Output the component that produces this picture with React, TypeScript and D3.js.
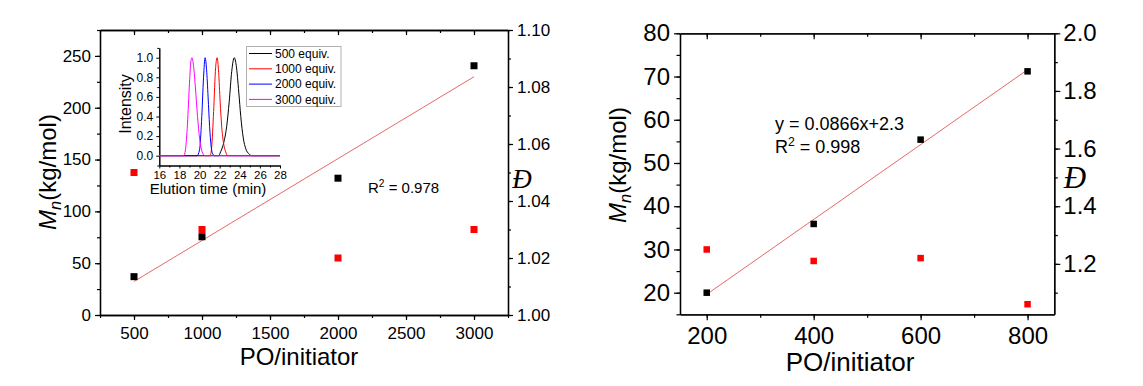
import React, { useEffect, useRef } from "react";
import * as d3 from "d3";

const WIDTH = 1143;
const HEIGHT = 386;
const SANS = "'Liberation Sans', Arial, sans-serif";
const SERIF = "'Liberation Serif', 'Times New Roman', serif";

// left panel: Mn and dispersity vs PO/initiator
const leftRatio = [500, 1000, 2000, 3000];
const leftMn = [37, 75.5, 132, 240.5];
const leftDispersity = [1.05, 1.03, 1.02, 1.03];
const leftXTicks = [500, 1000, 1500, 2000, 2500, 3000];
const leftYTicks = [0, 50, 100, 150, 200, 250];
const leftY2Ticks = [1.0, 1.02, 1.04, 1.06, 1.08, 1.1];
const leftR2 = "0.978";

// right panel
const rightRatio = [200, 400, 600, 800];
const rightMn = [20, 35.9, 55.4, 71.2];
const rightDispersity = [1.25, 1.21, 1.22, 1.06];
const rightXTicks = [200, 400, 600, 800];
const rightYTicks = [20, 30, 40, 50, 60, 70, 80];
const rightY2Ticks = [1.2, 1.4, 1.6, 1.8, 2.0];
const rightSlope = 0.0866;
const rightIntercept = 2.3;
const rightR2 = "0.998";

// inset: GPC traces (elution time in min, normalised intensity)
const gpcLabels = ["500 equiv.", "1000 equiv.", "2000 equiv.", "3000 equiv."];
const gpcColors = ["#000000", "#ff0000", "#0000ff", "#ff00ff"];
const gpc500: [number, number][] = [
  [16, 0], [21.9, 0], [22.1, 0.04], [22.4, 0.13], [22.7, 0.3], [22.95, 0.55],
  [23.2, 0.86], [23.45, 1.0], [23.65, 0.92], [23.9, 0.65], [24.1, 0.4],
  [24.35, 0.18], [24.6, 0.07], [24.9, 0.02], [25.2, 0], [28, 0],
];
const gpc1000: [number, number][] = [
  [16, 0], [21.05, 0], [21.2, 0.08], [21.4, 0.45], [21.6, 0.9], [21.75, 1.0],
  [21.9, 0.85], [22.05, 0.55], [22.2, 0.3], [22.4, 0.12], [22.6, 0.04],
  [22.8, 0], [28, 0],
];
const gpc2000: [number, number][] = [
  [16, 0], [19.75, 0], [20.0, 0.06], [20.2, 0.35], [20.4, 0.8], [20.55, 1.0],
  [20.7, 0.88], [20.85, 0.6], [21.0, 0.3], [21.15, 0.1], [21.3, 0.02],
  [21.5, 0], [28, 0],
];
const gpc3000: [number, number][] = [
  [16, 0], [18.45, 0], [18.6, 0.06], [18.8, 0.32], [19.0, 0.74], [19.15, 0.97],
  [19.25, 1.0], [19.4, 0.92], [19.6, 0.68], [19.8, 0.4], [20.0, 0.18],
  [20.2, 0.06], [20.4, 0.01], [20.6, 0], [28, 0],
];
const gpcSeries = [gpc500, gpc1000, gpc2000, gpc3000];
const gpcXTicks = [16, 18, 20, 22, 24, 26, 28];
const gpcYTicks = [0, 0.2, 0.4, 0.6, 0.8, 1.0];

type Sel = d3.Selection<SVGGElement, unknown, null, undefined>;

function styleAxis(g: Sel, fontSize: number) {
  g.select(".domain").attr("stroke", "#000").attr("stroke-width", 1.3);
  g.selectAll(".tick line").attr("stroke", "#000").attr("stroke-width", 1.2);
  g.selectAll(".tick text")
    .attr("fill", "#000")
    .style("font-family", SANS)
    .style("font-size", fontSize + "px");
}

function drawPanel(svg: Sel, cfg: any) {
  const x = d3.scaleLinear().domain(cfg.xDomain).range([cfg.left, cfg.right]);
  const y = d3.scaleLinear().domain(cfg.yDomain).range([cfg.bottom, cfg.top]);
  const y2 = d3.scaleLinear().domain(cfg.y2Domain).range([cfg.bottom, cfg.top]);
  const L = cfg.tickLen;
  const m = cfg.minorLen;

  const minor = (lo: number, hi: number, step: number) =>
    d3.range(Math.ceil(lo / step - 1e-6), Math.floor(hi / step + 1e-6) + 1).map((k) => +(k * step).toFixed(4));

  const xMinor = minor(cfg.xDomain[0], cfg.xDomain[1], cfg.xMinorStep);
  const yMinor = minor(cfg.yDomain[0], cfg.yDomain[1], cfg.yMinorStep);
  const y2Minor = minor(cfg.y2Domain[0], cfg.y2Domain[1], cfg.y2MinorStep);

  // minor ticks
  const minorAxes: [any, number, string][] = [
    [d3.axisBottom(x).tickValues(xMinor).tickSize(m), cfg.bottom, "x"],
    [d3.axisTop(x).tickValues(xMinor).tickSize(-m), cfg.top, "x"],
    [d3.axisLeft(y).tickValues(yMinor).tickSize(m), cfg.left, "y"],
    [d3.axisRight(y2).tickValues(y2Minor).tickSize(m), cfg.right, "y"],
  ];
  minorAxes.forEach(([ax, pos, dir]) => {
    const g = svg.append("g")
      .attr("transform", dir === "x" ? `translate(0,${pos})` : `translate(${pos},0)`)
      .call(ax.tickFormat(() => "").tickSizeOuter(0));
    styleAxis(g, cfg.tickFont);
  });

  const gx = svg.append("g").attr("transform", `translate(0,${cfg.bottom})`)
    .call(d3.axisBottom(x).tickValues(cfg.xTicks).tickSize(L).tickSizeOuter(0).tickPadding(cfg.xPad)
      .tickFormat(d3.format("d")));
  styleAxis(gx, cfg.tickFont);
  const gt = svg.append("g").attr("transform", `translate(0,${cfg.top})`)
    .call(d3.axisTop(x).tickValues(cfg.xTicks).tickSize(-L).tickSizeOuter(0).tickFormat(() => ""));
  styleAxis(gt, cfg.tickFont);
  const gy = svg.append("g").attr("transform", `translate(${cfg.left},0)`)
    .call(d3.axisLeft(y).tickValues(cfg.yTicks).tickSize(L).tickSizeOuter(0).tickPadding(cfg.yPad)
      .tickFormat(d3.format("d")));
  styleAxis(gy, cfg.tickFont);
  const gy2 = svg.append("g").attr("transform", `translate(${cfg.right},0)`)
    .call(d3.axisRight(y2).tickValues(cfg.y2Ticks).tickSize(L).tickSizeOuter(0).tickPadding(cfg.y2Pad)
      .tickFormat(d3.format(cfg.y2Fmt)));
  styleAxis(gy2, cfg.tickFont);

  // fit line
  const [x0, x1] = d3.extent(cfg.ratio as number[]) as [number, number];
  svg.append("line")
    .attr("x1", x(x0)).attr("y1", y(cfg.slope * x0 + cfg.intercept))
    .attr("x2", x(x1)).attr("y2", y(cfg.slope * x1 + cfg.intercept))
    .attr("stroke", "#e46a6a").attr("stroke-width", 1);

  const s = cfg.marker;
  svg.append("g").selectAll("rect")
    .data(cfg.ratio.map((r: number, i: number) => [r, cfg.mn[i]]))
    .join("rect")
    .attr("x", (d: number[]) => x(d[0]) - s / 2)
    .attr("y", (d: number[]) => y(d[1]) - s / 2)
    .attr("width", s).attr("height", s).attr("fill", "#000");
  svg.append("g").selectAll("rect")
    .data(cfg.ratio.map((r: number, i: number) => [r, cfg.disp[i]]))
    .join("rect")
    .attr("x", (d: number[]) => x(d[0]) - s / 2)
    .attr("y", (d: number[]) => y2(d[1]) - s / 2)
    .attr("width", s).attr("height", s).attr("fill", "#ff0000");

  // axis titles
  svg.append("text")
    .attr("x", cfg.xTitleX).attr("y", cfg.xTitleY)
    .attr("text-anchor", "middle")
    .style("font-family", SANS).style("font-size", cfg.xTitleFont + "px")
    .text("PO/initiator");

  const yt = svg.append("text")
    .attr("transform", `translate(${cfg.yTitleX},${cfg.yTitleY}) rotate(-90)`)
    .attr("text-anchor", "middle")
    .style("font-family", SANS).style("font-size", cfg.yTitleFont + "px");
  yt.append("tspan").style("font-style", "italic").text("M");
  yt.append("tspan").style("font-style", "italic").style("font-size", "0.68em").attr("dy", "0.3em").text("n");
  yt.append("tspan").attr("dy", "-0.2em").text("(kg/mol)");

  svg.append("text")
    .attr("x", cfg.dX).attr("y", cfg.dY)
    .attr("text-anchor", "middle")
    .style("font-family", SERIF).style("font-style", "italic").style("font-size", cfg.dFont + "px")
    .text("\u0110");

  return { x, y, y2 };
}

function linearFit(xs: number[], ys: number[]) {
  const mx = d3.mean(xs) as number;
  const my = d3.mean(ys) as number;
  const sxy = d3.sum(xs, (v, i) => (v - mx) * (ys[i] - my));
  const sxx = d3.sum(xs, (v) => (v - mx) ** 2);
  const slope = sxy / sxx;
  return { slope, intercept: my - slope * mx };
}

function addR2(svg: Sel, xPos: number, yPos: number, size: number, value: string) {
  const t = svg.append("text").attr("x", xPos).attr("y", yPos)
    .style("font-family", SANS).style("font-size", size + "px");
  t.append("tspan").text("R");
  t.append("tspan").style("font-size", "0.68em").attr("dy", "-0.55em").text("2");
  t.append("tspan").attr("dy", "0.37em").text(" = " + value);
}

export default function App() {
  const ref = useRef<SVGSVGElement>(null);

  useEffect(() => {
    const root = d3.select(ref.current);
    root.selectAll("*").remove();
    const svg = root.append("g") as Sel;
    svg.append("rect").attr("width", WIDTH).attr("height", HEIGHT).attr("fill", "#fff");

    // ---------- left panel ----------
    const lf = linearFit(leftRatio, leftMn);
    drawPanel(svg, {
      left: 100, right: 508, top: 30, bottom: 315,
      xDomain: [250, 3250], yDomain: [0, 275], y2Domain: [1.0, 1.1],
      xTicks: leftXTicks, yTicks: leftYTicks, y2Ticks: leftY2Ticks,
      xMinorStep: 250, yMinorStep: 25, y2MinorStep: 0.01,
      y2Fmt: ".2f", tickFont: 17, tickLen: 5, minorLen: 3,
      xPad: 6.5, yPad: 4, y2Pad: 4,
      ratio: leftRatio, mn: leftMn, disp: leftDispersity,
      slope: lf.slope, intercept: lf.intercept, marker: 7,
      xTitleX: 299, xTitleY: 365, xTitleFont: 24,
      yTitleX: 56, yTitleY: 172, yTitleFont: 24,
      dX: 522, dY: 188, dFont: 27,
    });
    addR2(svg, 368, 193, 15, leftR2);

    // inset
    const ix = d3.scaleLinear().domain([16, 28]).range([159.3, 280]);
    const iy = d3.scaleLinear().domain([-0.1, 1.1]).range([165.5, 47.9]);
    const ixMinor = d3.range(17, 28, 2);
    const iyMinor = [-0.1, 0.1, 0.3, 0.5, 0.7, 0.9, 1.1];
    const gim = svg.append("g").attr("transform", "translate(0,165.5)")
      .call(d3.axisBottom(ix).tickValues(ixMinor).tickSize(2).tickSizeOuter(0).tickFormat(() => ""));
    styleAxis(gim, 12);
    const gi = svg.append("g").attr("transform", "translate(0,165.5)")
      .call(d3.axisBottom(ix).tickValues(gpcXTicks).tickSize(3).tickSizeOuter(0).tickPadding(2.5));
    styleAxis(gi, 11.5);
    const giym = svg.append("g").attr("transform", "translate(159.3,0)")
      .call(d3.axisLeft(iy).tickValues(iyMinor).tickSize(2).tickSizeOuter(0).tickFormat(() => ""));
    styleAxis(giym, 12);
    const giy = svg.append("g").attr("transform", "translate(159.3,0)")
      .call(d3.axisLeft(iy).tickValues(gpcYTicks).tickSize(3).tickSizeOuter(0).tickPadding(3)
        .tickFormat(d3.format(".1f")));
    styleAxis(giy, 12);
    [gi, giy, gim, giym].forEach((g) => g.selectAll(".domain, .tick line").attr("stroke-width", 1));

    const line = d3.line<[number, number]>()
      .x((d) => ix(d[0])).y((d) => iy(d[1]))
      .curve(d3.curveMonotoneX);
    gpcSeries.forEach((s, i) => {
      svg.append("path").attr("d", line(s) as string)
        .attr("fill", "none").attr("stroke", gpcColors[i]).attr("stroke-width", 1);
    });

    svg.append("text")
      .attr("transform", "translate(131,104) rotate(-90)")
      .attr("text-anchor", "middle")
      .style("font-family", SANS).style("font-size", "16px")
      .text("Intensity");
    svg.append("text")
      .attr("x", 208).attr("y", 194).attr("text-anchor", "middle")
      .style("font-family", SANS).style("font-size", "15px")
      .text("Elution time (min)");

    // inset legend
    const lg = svg.append("g");
    lg.append("rect").attr("x", 246.5).attr("y", 46.5).attr("width", 94.5).attr("height", 60)
      .attr("fill", "#fff").attr("stroke", "#b0b0b0").attr("stroke-width", 1);
    gpcLabels.forEach((lab, i) => {
      const yy = 53.5 + i * 15.3;
      lg.append("line").attr("x1", 249).attr("x2", 272).attr("y1", yy).attr("y2", yy)
        .attr("stroke", gpcColors[i]).attr("stroke-width", 1);
      lg.append("text").attr("x", 275).attr("y", yy).attr("dy", "0.35em")
        .style("font-family", SANS).style("font-size", "12px").text(lab);
    });

    // ---------- right panel ----------
    drawPanel(svg, {
      left: 680, right: 1054.3, top: 33.3, bottom: 314.3,
      xDomain: [150, 850], yDomain: [15, 80], y2Domain: [1.025, 2.0],
      xTicks: rightXTicks, yTicks: rightYTicks, y2Ticks: rightY2Ticks,
      xMinorStep: 100, yMinorStep: 5, y2MinorStep: 0.1,
      y2Fmt: ".1f", tickFont: 24, tickLen: 6, minorLen: 3.5,
      xPad: 7, yPad: 4, y2Pad: 3,
      ratio: rightRatio, mn: rightMn, disp: rightDispersity,
      slope: rightSlope, intercept: rightIntercept, marker: 6.5,
      xTitleX: 850, xTitleY: 371, xTitleFont: 26,
      yTitleX: 626, yTitleY: 165, yTitleFont: 24,
      dX: 1075, dY: 188, dFont: 31,
    });
    svg.append("text").attr("x", 775).attr("y", 130)
      .style("font-family", SANS).style("font-size", "18px")
      .text(`y = ${rightSlope}x+${rightIntercept}`);
    addR2(svg, 775, 153, 18, rightR2);
  }, []);

  return (
    <svg
      ref={ref}
      width={WIDTH}
      height={HEIGHT}
      style={{ position: "absolute", left: 0, top: 0, display: "block" }}
    />
  );
}
